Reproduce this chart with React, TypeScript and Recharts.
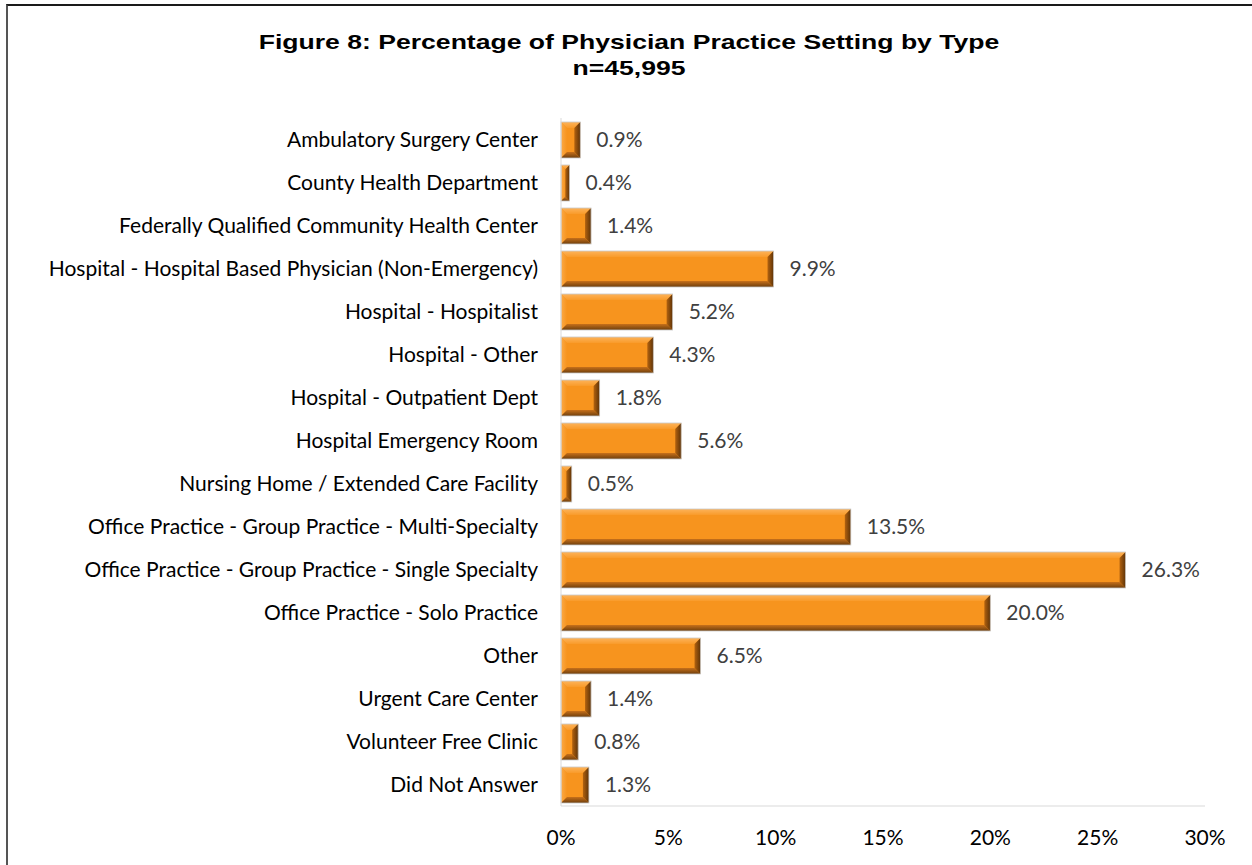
import React from 'react';
import { BarChart, Bar, XAxis, YAxis, LabelList } from 'recharts';

const categories = [
  'Ambulatory Surgery Center',
  'County Health Department',
  'Federally Qualified Community Health Center',
  'Hospital - Hospital Based Physician (Non-Emergency)',
  'Hospital - Hospitalist',
  'Hospital - Other',
  'Hospital - Outpatient Dept',
  'Hospital Emergency Room',
  'Nursing Home / Extended Care Facility',
  'Office Practice - Group Practice - Multi-Specialty',
  'Office Practice - Group Practice - Single Specialty',
  'Office Practice - Solo Practice',
  'Other',
  'Urgent Care Center',
  'Volunteer Free Clinic',
  'Did Not Answer',
];

const percentages = [0.9, 0.4, 1.4, 9.9, 5.2, 4.3, 1.8, 5.6, 0.5, 13.5, 26.3, 20.0, 6.5, 1.4, 0.8, 1.3];

const xTicks = [0, 5, 10, 15, 20, 25, 30];

const data = categories.map((name, i) => ({ name, value: percentages[i] }));

const bodyFont = 'Lato, "Open Sans", sans-serif';

// orange bar with a bevelled edge, like the Office "bevel" shape effect
const BevelBar = (props: any) => {
  const { x, y, width, height } = props;
  if (!width || width <= 0) return null;
  const b = Math.min(6, width / 2, height / 2);
  const r = x + width;
  const bt = y + height;
  return (
    <g>
      <rect x={x} y={y} width={width} height={height} fill="#F7941E" />
      <polygon points={`${x},${y} ${r},${y} ${r - b},${y + b} ${x + b},${y + b}`} fill="url(#bevelTop)" />
      <polygon points={`${x},${y} ${x + b},${y + b} ${x + b},${bt - b} ${x},${bt}`} fill="url(#bevelLeft)" />
      <polygon points={`${x},${bt} ${r},${bt} ${r - b},${bt - b} ${x + b},${bt - b}`} fill="url(#bevelBottom)" />
      <polygon points={`${r},${y} ${r - b},${y + b} ${r - b},${bt - b} ${r},${bt}`} fill="url(#bevelRight)" />
      <rect x={x} y={y} width={width} height={height} fill="none" stroke="#c9c9c9" strokeWidth={0.8} />
    </g>
  );
};

export default function App() {
  return (
    <div style={{ position: 'absolute', left: 0, top: 0, width: 1252, height: 865, background: '#fff', overflow: 'hidden' }}>
      <div
        style={{
          position: 'absolute',
          left: 6,
          top: 4,
          width: 1260,
          height: 880,
          borderTop: '2px solid #1a1a1a',
          borderLeft: '2px solid #555',
        }}
      />
      <div
        style={{
          position: 'absolute',
          left: 0,
          top: 29,
          width: 1258,
          textAlign: 'center',
          fontFamily: '"Liberation Sans", Arial, sans-serif',
          fontWeight: 'bold',
          fontSize: 21,
          lineHeight: '26px',
          color: '#000',
          transform: 'scaleX(1.265)',
          transformOrigin: '629px 0',
        }}
      >
        <div>Figure 8: Percentage of Physician Practice Setting by Type</div>
        <div>n=45,995</div>
      </div>
      <div style={{ position: 'absolute', left: 0, top: 0 }}>
        <BarChart
          width={1252}
          height={865}
          data={data}
          layout="vertical"
          margin={{ top: 118, right: 47, bottom: 29, left: 0 }}
          barSize={36}
        >
          <defs>
            <linearGradient id="bevelTop" x1="0" y1="0" x2="0" y2="1">
              <stop offset="0%" stopColor="#FDB35A" />
              <stop offset="100%" stopColor="#F99B2A" />
            </linearGradient>
            <linearGradient id="bevelLeft" x1="0" y1="0" x2="1" y2="0">
              <stop offset="0%" stopColor="#FBAA48" />
              <stop offset="100%" stopColor="#F7941E" />
            </linearGradient>
            <linearGradient id="bevelBottom" x1="0" y1="0" x2="0" y2="1">
              <stop offset="0%" stopColor="#C7701A" />
              <stop offset="100%" stopColor="#6E3E0C" />
            </linearGradient>
            <linearGradient id="bevelRight" x1="0" y1="0" x2="1" y2="0">
              <stop offset="0%" stopColor="#B2620F" />
              <stop offset="100%" stopColor="#5E3308" />
            </linearGradient>
          </defs>
          <XAxis
            type="number"
            domain={[0, 30]}
            ticks={xTicks}
            tickFormatter={(v: number) => `${v}%`}
            axisLine={{ stroke: '#d9d9d9' }}
            tickLine={false}
            tickSize={0}
            tickMargin={24}
            height={30}
            interval={0}
            tick={{ fill: '#000', fontSize: 21, fontFamily: bodyFont }}
          />
          <YAxis
            type="category"
            dataKey="name"
            width={561}
            axisLine={{ stroke: '#d9d9d9' }}
            tickLine={false}
            tickSize={0}
            tickMargin={23}
            interval={0}
            tick={{ fill: '#000', fontSize: 21, fontFamily: bodyFont }}
          />
          <Bar dataKey="value" shape={BevelBar} isAnimationActive={false}>
            <LabelList
              dataKey="value"
              position="right"
              offset={16}
              formatter={(v: any) => `${Number(v).toFixed(1)}%`}
              style={{ fill: '#404040', fontSize: 21, fontFamily: bodyFont }}
            />
          </Bar>
        </BarChart>
      </div>
    </div>
  );
}
